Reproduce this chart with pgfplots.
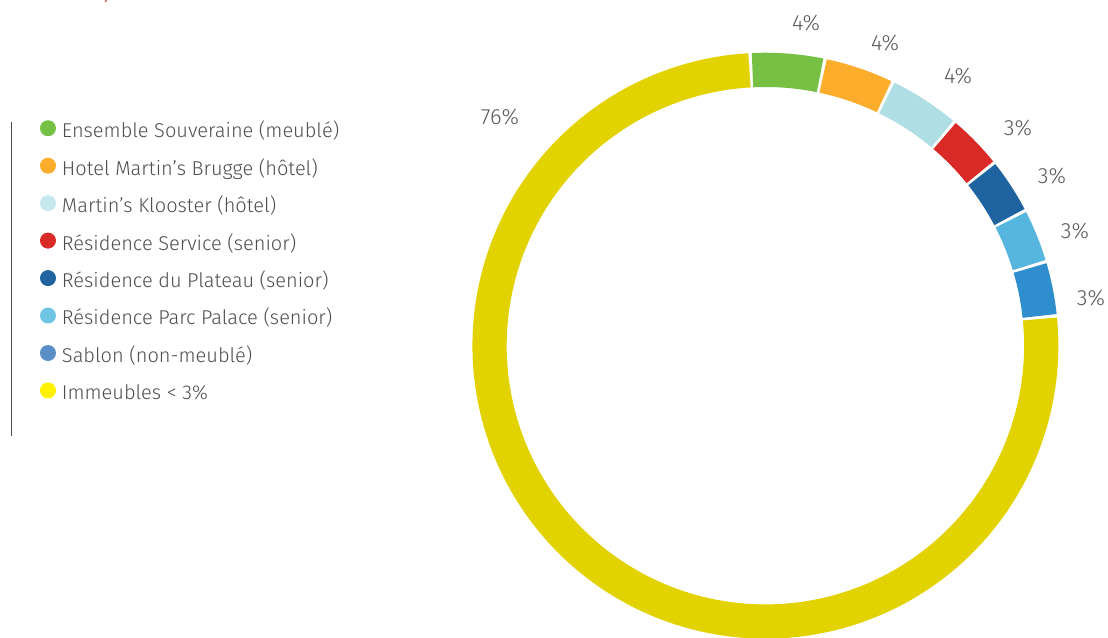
\documentclass[border=0pt]{standalone}
\usepackage{pgfplots}
\pgfplotsset{compat=1.18}
\usepackage{fontspec}
\IfFontExistsTF{Fira Sans Light}{\setmainfont{Fira Sans Light}}{\setmainfont{Fira Sans}}
\definecolor{rgreen}{HTML}{76C043}
\definecolor{rorange}{HTML}{FBAD2B}
\definecolor{rcyan}{HTML}{AFDEE5}
\definecolor{rred}{HTML}{D92A27}
\definecolor{rdblue}{HTML}{1F64A0}
\definecolor{rlblue}{HTML}{57B6DE}
\definecolor{rblue}{HTML}{2E8ECE}
\definecolor{ryellow}{HTML}{E2D200}
\definecolor{lcyan}{HTML}{C6E8EC}
\definecolor{llblue}{HTML}{6EC5E4}
\definecolor{lsablon}{HTML}{5A8FC5}
\definecolor{lyellow}{HTML}{FFF100}
\definecolor{labgray}{HTML}{58585A}
\definecolor{legtext}{HTML}{4D4D4F}
\definecolor{titlered}{HTML}{C8202A}
% shares in percent
\def\vA{4.1}\def\vB{3.9}\def\vC{4.0}\def\vD{3.1}
\def\vE{3.1}\def\vF{3.0}\def\vG{3.0}\def\vH{75.8}
\def\startang{93}
\def\gap{0.32}
\pgfmathsetmacro\aA{\startang}
\pgfmathsetmacro\aB{\aA-3.6*\vA}
\pgfmathsetmacro\aC{\aB-3.6*\vB}
\pgfmathsetmacro\aD{\aC-3.6*\vC}
\pgfmathsetmacro\aE{\aD-3.6*\vD}
\pgfmathsetmacro\aF{\aE-3.6*\vE}
\pgfmathsetmacro\aG{\aF-3.6*\vF}
\pgfmathsetmacro\aH{\aG-3.6*\vG}
\pgfmathsetmacro\aI{\aH-3.6*\vH}
\pgfmathsetmacro\sA{\aB+\gap}\pgfmathsetmacro\eA{\aA-\gap}
\pgfmathsetmacro\sB{\aC+\gap}\pgfmathsetmacro\eB{\aB-\gap}
\pgfmathsetmacro\sC{\aD+\gap}\pgfmathsetmacro\eC{\aC-\gap}
\pgfmathsetmacro\sD{\aE+\gap}\pgfmathsetmacro\eD{\aD-\gap}
\pgfmathsetmacro\sE{\aF+\gap}\pgfmathsetmacro\eE{\aE-\gap}
\pgfmathsetmacro\sF{\aG+\gap}\pgfmathsetmacro\eF{\aF-\gap}
\pgfmathsetmacro\sG{\aH+\gap}\pgfmathsetmacro\eG{\aG-\gap}
\pgfmathsetmacro\sH{\aI+\gap}\pgfmathsetmacro\eH{\aH-\gap}
\def\rmid{275.85}
\begin{document}
\begin{tikzpicture}
\useasboundingbox (-574.05pt,-218.475pt) rectangle (256.95pt,259.275pt);
\clip (-574.05pt,-218.475pt) rectangle (256.95pt,259.275pt);
\begin{axis}[
  hide axis, scale only axis,
  x=0.75pt, y=0.75pt,
  xmin=-765.4, xmax=342.6, ymin=-291.3, ymax=345.7,
  at={(0,0)}, anchor=origin,
  legend cell align=left,
  legend style={at={(axis cs:-725.4,225.5)}, anchor=north west,
    draw=none, fill=none, inner sep=0pt, outer sep=0pt,
    row sep=11.55pt, font=\fontsize{15}{17}\selectfont, text=legtext,
    nodes={inner sep=0pt, text height=11pt, text depth=3.5pt},
    /tikz/every odd column/.append style={column sep=4.5pt}},
  ring/.style={line width=25.7pt, data cs=polar, no markers, line cap=butt},
]
\addplot[ring, draw=rgreen, domain=\sA:\eA, samples=20,
  legend image code/.code={\fill[rgreen, draw=none] (6pt,3.3pt) circle (6pt);}] (x,\rmid);
\addlegendentry{Ensemble Souveraine (meublé)}
\addplot[ring, draw=rorange, domain=\sB:\eB, samples=20,
  legend image code/.code={\fill[rorange, draw=none] (6pt,3.3pt) circle (6pt);}] (x,\rmid);
\addlegendentry{Hotel Martin’s Brugge (hôtel)}
\addplot[ring, draw=rcyan, domain=\sC:\eC, samples=20,
  legend image code/.code={\fill[lcyan, draw=none] (6pt,3.3pt) circle (6pt);}] (x,\rmid);
\addlegendentry{Martin’s Klooster (hôtel)}
\addplot[ring, draw=rred, domain=\sD:\eD, samples=20,
  legend image code/.code={\fill[rred, draw=none] (6pt,3.3pt) circle (6pt);}] (x,\rmid);
\addlegendentry{Résidence Service (senior)}
\addplot[ring, draw=rdblue, domain=\sE:\eE, samples=20,
  legend image code/.code={\fill[rdblue, draw=none] (6pt,3.3pt) circle (6pt);}] (x,\rmid);
\addlegendentry{Résidence du Plateau (senior)}
\addplot[ring, draw=rlblue, domain=\sF:\eF, samples=20,
  legend image code/.code={\fill[llblue, draw=none] (6pt,3.3pt) circle (6pt);}] (x,\rmid);
\addlegendentry{Résidence Parc Palace (senior)}
\addplot[ring, draw=rblue, domain=\sG:\eG, samples=20,
  legend image code/.code={\fill[lsablon, draw=none] (6pt,3.3pt) circle (6pt);}] (x,\rmid);
\addlegendentry{Sablon (non-meublé)}
\addplot[ring, draw=ryellow, domain=\sH:\eH, samples=200,
  legend image code/.code={\fill[lyellow, draw=none] (6pt,3.3pt) circle (6pt);}] (x,\rmid);
\addlegendentry{Immeubles < 3\%}
\tikzset{lab/.style={text=labgray, font=\fontsize{16.5}{18}\selectfont, inner sep=0pt}}
\node[lab] at (axis cs:-265.4,228.7) {76\%};
\node[lab] at (axis cs:40.6,322.7) {4\%};
\node[lab] at (axis cs:119.6,302.7) {4\%};
\node[lab] at (axis cs:192.6,269.7) {4\%};
\node[lab] at (axis cs:252.6,217.7) {3\%};
\node[lab] at (axis cs:286.6,169.7) {3\%};
\node[lab] at (axis cs:309.6,114.7) {3\%};
\node[lab] at (axis cs:325.6,47.7) {3\%};
\draw[color=legtext, line width=0.75pt] (axis cs:-753.4,223.7) -- (axis cs:-753.4,-90.3);
\node[text=titlered, font=\fontsize{18}{20}\selectfont, anchor=south, inner sep=0pt] at (axis cs:-658,342.2) {)};
\end{axis}
\end{tikzpicture}
\end{document}
